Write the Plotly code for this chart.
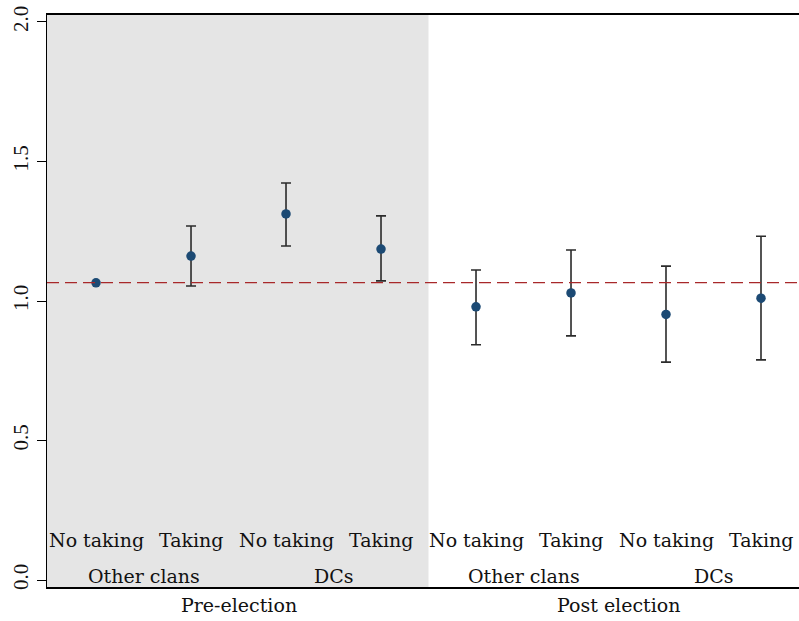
import plotly.graph_objects as go

# Estimates with 95% confidence intervals, by period / group / treatment
periods = ["Pre-election", "Post election"]
groups = ["Other clans", "DCs", "Other clans", "DCs"]
treatments = ["No taking", "Taking", "No taking", "Taking",
              "No taking", "Taking", "No taking", "Taking"]
estimates = [1.065, 1.161, 1.312, 1.186, 0.979, 1.029, 0.952, 1.010]
ci_low = [None, 1.054, 1.197, 1.072, 0.843, 0.875, 0.781, 0.789]
ci_high = [None, 1.269, 1.423, 1.305, 1.111, 1.183, 1.125, 1.232]
reference_level = 1.066

positions = list(range(1, len(estimates) + 1))
serif = "DejaVu Serif"

fig = go.Figure()

# confidence intervals (only where available)
ci_idx = [i for i in range(len(estimates)) if ci_low[i] is not None]
fig.add_trace(go.Scatter(
    x=[positions[i] for i in ci_idx],
    y=[estimates[i] for i in ci_idx],
    mode="markers",
    marker=dict(size=1, opacity=0),
    error_y=dict(
        type="data", symmetric=False,
        array=[ci_high[i] - estimates[i] for i in ci_idx],
        arrayminus=[estimates[i] - ci_low[i] for i in ci_idx],
        color="#2b2b2b", thickness=1.6, width=5,
    ),
    showlegend=False, hoverinfo="skip",
))

# point estimates
fig.add_trace(go.Scatter(
    x=positions, y=estimates, mode="markers",
    marker=dict(size=9.5, color="#1c4a74"),
    showlegend=False,
))

# shaded pre-election block
fig.add_shape(type="rect", xref="x", yref="paper",
              x0=0.48, x1=4.5, y0=0, y1=1,
              fillcolor="#e5e5e5", line=dict(width=0), layer="below")

# reference level
fig.add_hline(y=reference_level, line=dict(color="#a8282a", width=1.3, dash="12px,6px"))

# category labels
for p, t in zip(positions, treatments):
    fig.add_annotation(x=p, y=0.143, xref="x", yref="y", text=t, yanchor="middle",
                       showarrow=False, font=dict(family=serif, size=19, color="#111"))
for k, g in enumerate(groups):
    fig.add_annotation(x=1.5 + 2 * k, y=0.014, xref="x", yref="y", text=g, yanchor="middle",
                       showarrow=False, font=dict(family=serif, size=19, color="#111"))
for k, per in enumerate(periods):
    fig.add_annotation(x=2.5 + 4 * k, y=-0.032, xref="x", yref="paper", text=per,
                       yanchor="middle",
                       showarrow=False, font=dict(family=serif, size=19, color="#111"))

fig.update_layout(
    width=799, height=621,
    margin=dict(l=47, r=0, t=15, b=34),
    plot_bgcolor="white", paper_bgcolor="white",
    font=dict(family=serif, color="#111"),
)
fig.update_xaxes(range=[0.484, 8.4], showgrid=False, zeroline=False,
                 showticklabels=False, ticks="",
                 showline=True, linecolor="black", linewidth=1.8, mirror=True)
fig.update_yaxes(range=[-0.025, 2.025], tickvals=[0, 0.5, 1.0, 1.5, 2.0],
                 ticktext=["0.0", "0.5", "1.0", "1.5", "2.0"],
                 tickangle=-90, ticks="outside", ticklen=9, tickcolor="black",
                 tickfont=dict(family="Liberation Serif", size=21, color="#111"),
                 showgrid=False, zeroline=False,
                 showline=True, linecolor="black", linewidth=1.3)

fig.write_html("out.html")
